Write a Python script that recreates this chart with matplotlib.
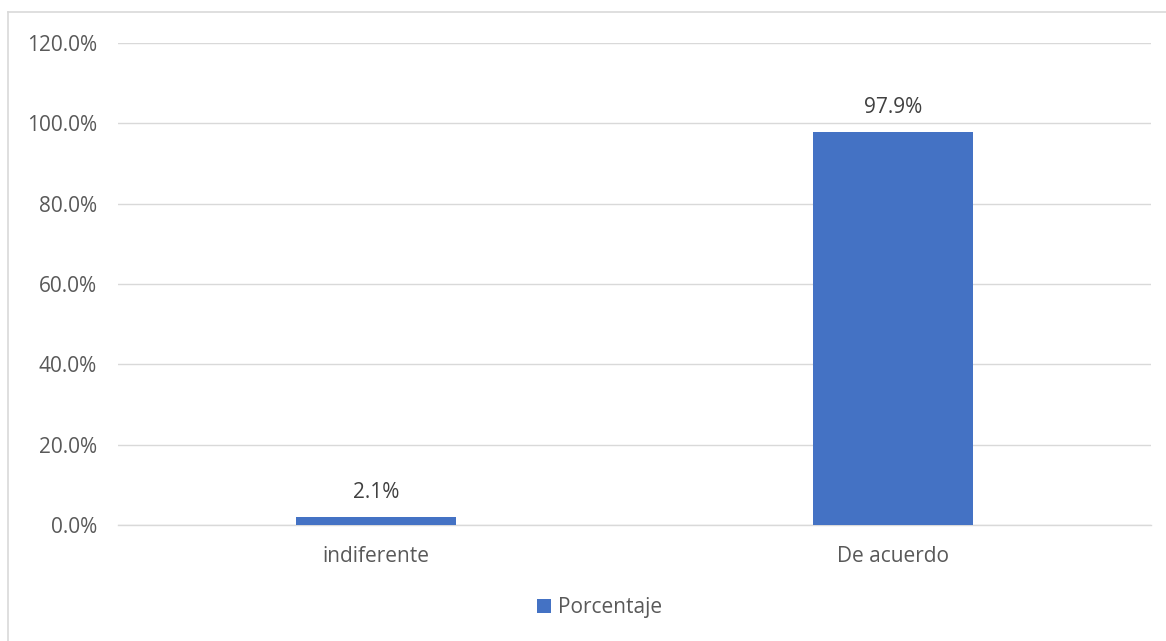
import matplotlib.pyplot as plt
import numpy as np
from matplotlib.lines import Line2D

categories = ['indiferente', 'De acuerdo']
porcentaje = [2.1, 97.9]
y_ticks = [0, 20, 40, 60, 80, 100, 120]
series_name = 'Porcentaje'

plt.rcParams['font.family'] = ['Open Sans', 'DejaVu Sans']

fig = plt.figure(figsize=(11.66, 6.41), dpi=100)
ax = fig.add_axes([0.1012, 0.1810, 0.8859, 0.7519])

x = np.arange(len(categories))
bars = ax.bar(x, porcentaje, width=0.31, color='#4472C4', label=series_name, zorder=3)

ax.set_xlim(-0.5, len(categories) - 0.5)
ax.set_ylim(0, 120)
ax.set_yticks(y_ticks)
ax.set_yticklabels([f'{v:.1f}%' for v in y_ticks])
ax.set_xticks(x)
ax.set_xticklabels(categories)
ax.tick_params(axis='both', length=0, labelsize=15, colors='#595959')
ax.tick_params(axis='y', pad=15)
ax.tick_params(axis='x', pad=15)
ax.yaxis.grid(True, color='#d9d9d9', linewidth=1.0, zorder=0)
for s in ['top', 'right', 'left']:
    ax.spines[s].set_visible(False)
ax.spines['bottom'].set_color('#d9d9d9')
ax.spines['bottom'].set_linewidth(1.0)

for rect, v in zip(bars, porcentaje):
    ax.annotate(f'{v:.1f}%', xy=(rect.get_x() + rect.get_width() / 2, v),
                xytext=(0, 10), textcoords='offset points',
                ha='center', va='bottom', fontsize=15, color='#404040')

fig.legend(handles=[bars], labels=[series_name], loc='center',
           bbox_to_anchor=(0.514, 0.052), frameon=False, fontsize=15,
           handlelength=0.7, handleheight=0.7, handletextpad=0.3,
           labelcolor='#595959')

# chart area border (left and top edges visible)
fig.add_artist(Line2D([8 / 1166, 8 / 1166], [0, 1 - 12 / 641], color='#d9d9d9', linewidth=1.2))
fig.add_artist(Line2D([8 / 1166, 1], [1 - 12 / 641, 1 - 12 / 641], color='#d9d9d9', linewidth=1.2))

fig.savefig('out.png', dpi=100)
